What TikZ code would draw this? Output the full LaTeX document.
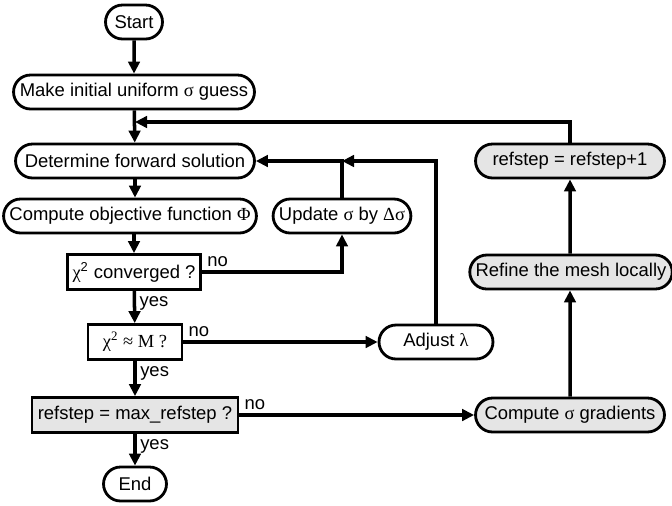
\documentclass[tikz,border=0pt]{standalone}
\usepackage{fontspec}
\setmainfont{Liberation Sans}
\newfontfamily\grk{Liberation Serif}
\usetikzlibrary{shapes.misc,arrows.meta}
\newcommand{\gr}[1]{{\grk #1}}

\begin{document}
\begin{tikzpicture}[x=0.02cm,y=-0.02cm,
  term/.style={rounded rectangle,draw,line width=1.6pt,minimum height=0.68cm,inner xsep=2pt,font=\fontsize{10.5}{12}\selectfont},
  test/.style={rectangle,draw,line width=1.6pt,minimum height=0.7cm,inner xsep=3pt,font=\fontsize{10.5}{12}\selectfont},
  shade/.style={fill=black!10},
  lbl/.style={inner sep=2pt,font=\fontsize{10.5}{12}\selectfont},
  flow/.style={line width=2pt,-{Triangle[length=0.24cm,width=0.23cm]}}]
  \useasboundingbox (0,0) rectangle (672,505);

  \node[term,minimum width=1.28cm] (start) at (134,22) {Start};
  \node[term,minimum width=4.96cm] (guess) at (134,92) {Make initial uniform \gr{σ} guess};
  \node[term,minimum width=4.92cm] (fwd) at (135,161) {Determine forward solution};
  \node[term,minimum width=4.88cm] (obj) at (130,216) {Compute objective function \gr{Φ}};
  \node[term,minimum width=2.7cm] (upd) at (342,216) {Update \gr{σ} by \gr{Δσ}};

  \node[test,minimum width=2.64cm] (conv) at (134,272) {\gr{χ}\textsuperscript{2} converged ?};
  \node[test,minimum width=1.88cm] (chim) at (135,342) {\gr{χ\textsuperscript{2} ≈ M ?}};
  \node[test,shade,minimum width=4.12cm] (maxref) at (135,415) {refstep = max\_refstep ?};
  \node[term,minimum width=1.4cm] (end) at (135,484) {End};

  \node[term,minimum width=2.42cm] (adj) at (436,342) {Adjust \gr{λ}};
  \node[term,shade,minimum width=3.92cm] (grad) at (570,415) {Compute \gr{σ} gradients};
  \node[term,shade,minimum width=3.9cm] (refine) at (571,272) {Refine the mesh locally};
  \node[term,shade,minimum width=3.92cm] (inc) at (570,161) {refstep = refstep+1};

  \coordinate (back) at (135,122);
  \coordinate (join) at (upd.north |- fwd.east);

  \draw[flow] (start) -- (guess);
  \draw[flow] (guess) -- (fwd);
  \draw[flow] (fwd.south) -- (fwd.south |- obj.north);
  \draw[flow] (obj.south -| conv.north) -- (conv);
  \draw[flow] (conv) -- node[pos=0,anchor=north west,lbl] {yes} (chim);
  \draw[flow] (chim) -- node[pos=0,anchor=north west,lbl] {yes} (maxref);
  \draw[flow] (maxref) -- node[pos=0,anchor=north west,lbl] {yes} (end);

  \draw[flow] (conv.east) -| node[pos=0,anchor=south west,lbl] {no} (upd.south);
  \draw[flow] (upd.north) |- (fwd.east);
  \draw[flow] (chim) -- node[pos=0,anchor=south west,lbl] {no} (adj);
  \draw[flow] (adj.north) |- (join);
  \draw[flow] (maxref) -- node[pos=0,anchor=south west,lbl] {no} (grad);

  \draw[flow] (grad) -- (grad.north |- refine.south);
  \draw[flow] (refine.north -| inc.south) -- (inc);
  \draw[flow] (inc.north) |- (back);

\end{tikzpicture}
\end{document}
